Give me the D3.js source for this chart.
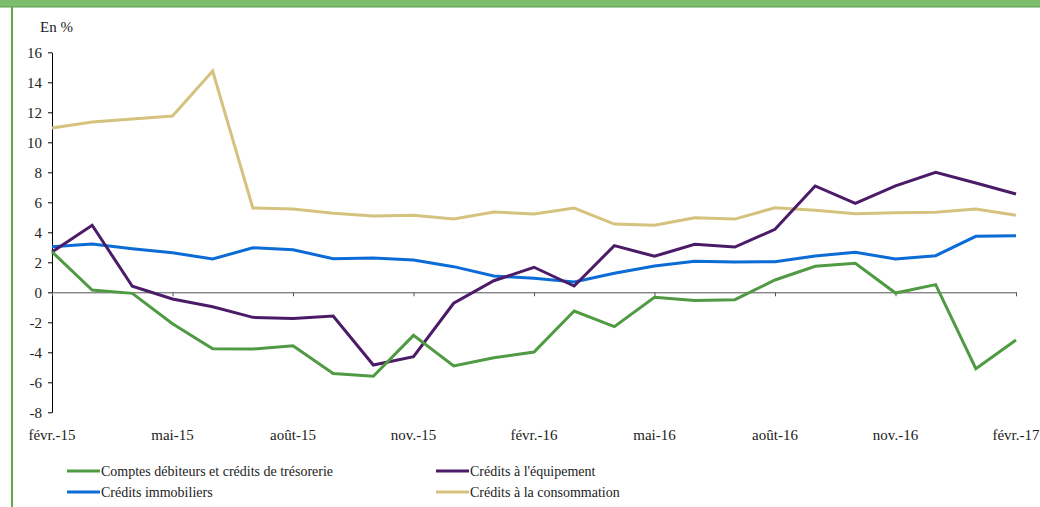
<!DOCTYPE html>
<html>
<head>
<meta charset="utf-8">
<script src="https://cdn.jsdelivr.net/npm/d3@7"></script>
<style>
  body { margin: 0; background: #fff; }
  svg text { font-family: "Liberation Serif", "Times New Roman", "DejaVu Serif", serif !important; }
</style>
</head>
<body>
<svg id="chart" width="1040" height="507"></svg>
<script>
// months from févr.-15 to févr.-17
const months = ["févr.-15","mars-15","avr.-15","mai-15","juin-15","juil.-15","août-15","sept.-15","oct.-15","nov.-15","déc.-15","janv.-16",
    "févr.-16","mars-16","avr.-16","mai-16","juin-16","juil.-16","août-16","sept.-16","oct.-16","nov.-16","déc.-16","janv.-17","févr.-17"];
const tickLabels = ["févr.-15","mai-15","août-15","nov.-15","févr.-16","mai-16","août-16","nov.-16","févr.-17"];
const yTicks = [-8,-6,-4,-2,0,2,4,6,8,10,12,14,16];

const tresorerie = [2.7,0.15,-0.07,-2.1,-3.76,-3.78,-3.56,-5.42,-5.6,-2.87,-4.91,-4.36,-3.98,-1.25,-2.29,-0.33,-0.54,-0.49,0.82,1.73,1.93,-0.05,0.51,-5.09,-3.18];
const equipement = [2.69,4.47,0.4,-0.45,-0.96,-1.67,-1.74,-1.58,-4.85,-4.29,-0.73,0.77,1.67,0.42,3.11,2.4,3.2,3.02,4.2,7.09,5.93,7.09,8.0,7.29,6.55];
const immobiliers = [3.04,3.22,2.91,2.64,2.22,2.97,2.84,2.24,2.29,2.15,1.71,1.09,0.93,0.69,1.27,1.75,2.07,2.02,2.04,2.42,2.67,2.22,2.44,3.73,3.77];
const consommation = [10.95,11.35,11.55,11.75,14.75,5.62,5.55,5.27,5.08,5.13,4.88,5.35,5.22,5.62,4.55,4.47,4.97,4.88,5.64,5.47,5.24,5.31,5.33,5.55,5.13];

const series = [
    { name: "Comptes débiteurs et crédits de trésorerie", values: tresorerie, color: "#4f9a43" },
    { name: "Crédits immobiliers", values: immobiliers, color: "#0b6cd6" },
    { name: "Crédits à l'équipement", values: equipement, color: "#4b1b68" },
    { name: "Crédits à la consommation", values: consommation, color: "#d5c27f" }
];

const svg = d3.select("#chart");

// frame: green band on top, thin green rule on the left
svg.append("rect").attr("x", 0).attr("y", 0).attr("width", 1040).attr("height", 7).attr("fill", "#7bbd6d");
svg.append("line").attr("x1", 0).attr("x2", 1040).attr("y1", 7).attr("y2", 7).attr("stroke", "#5c9e4f").attr("stroke-width", 1);
svg.append("line").attr("x1", 12).attr("x2", 12).attr("y1", 7).attr("y2", 507).attr("stroke", "#5aa84a").attr("stroke-width", 2);

const x = d3.scalePoint().domain(months).range([52, 1016]);
const y = d3.scaleLinear().domain([-8, 16]).range([412.3, 52.3]);

// y axis
const yAxis = svg.append("g").attr("transform", "translate(52,0)")
    .call(d3.axisLeft(y).tickValues(yTicks).tickSize(4).tickSizeOuter(0).tickFormat(d => d));
yAxis.select(".domain").attr("stroke", "#000");
yAxis.selectAll(".tick line").attr("stroke", "#000");
yAxis.selectAll("text").attr("font-size", 15).attr("fill", "#222").attr("x", -10);

// x axis on the zero line
const xAxis = svg.append("g").attr("transform", "translate(0," + y(0) + ")")
    .call(d3.axisBottom(x).tickValues(tickLabels).tickSize(4).tickSizeOuter(0).tickFormat(""));
xAxis.select(".domain").attr("stroke", "#555");
xAxis.selectAll(".tick line").attr("stroke", "#555");

svg.append("g").selectAll("text")
    .data(tickLabels)
    .enter()
    .append("text")
    .attr("x", d => x(d))
    .attr("y", 440)
    .attr("text-anchor", "middle")
    .attr("font-size", 15)
    .attr("fill", "#222")
    .text(d => d);

svg.append("text").attr("x", 40).attr("y", 32).attr("font-size", 15).attr("fill", "#222").text("En %");

// lines, drawn back to front as in the original
const line = d3.line().x((d, i) => x(months[i])).y(d => y(d));
const drawOrder = [series[3], series[1], series[2], series[0]];
svg.append("g").selectAll("path")
    .data(drawOrder)
    .enter()
    .append("path")
    .attr("d", d => line(d.values))
    .attr("fill", "none")
    .attr("stroke", d => d.color)
    .attr("stroke-width", 3)
    .attr("stroke-linejoin", "miter");

// legend
const legendPos = [[67, 471], [67, 492], [436, 471], [436, 492]];
const legend = svg.append("g").selectAll("g")
    .data(series)
    .enter()
    .append("g")
    .attr("transform", (d, i) => "translate(" + legendPos[i][0] + "," + legendPos[i][1] + ")");
legend.append("line").attr("x1", 0).attr("x2", 33).attr("y1", 0).attr("y2", 0)
    .attr("stroke", d => d.color).attr("stroke-width", 3);
legend.append("text").attr("x", 34).attr("y", 4.5).attr("font-size", 14).attr("fill", "#222").text(d => d.name);
</script>
</body>
</html>
